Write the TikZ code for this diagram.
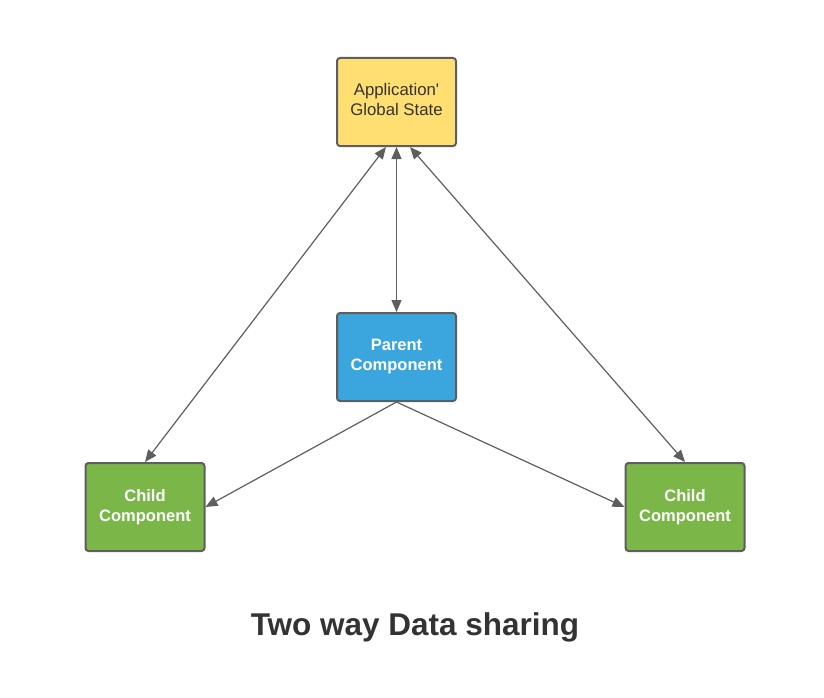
\documentclass[tikz,border=0pt]{standalone}
\usepackage{fontspec}
\setmainfont{Liberation Sans}
\usetikzlibrary{arrows.meta}
\definecolor{edgegray}{HTML}{5E5E5E}
\definecolor{boxyellow}{HTML}{FFDF71}
\definecolor{boxblue}{HTML}{3AA6DD}
\definecolor{boxgreen}{HTML}{7AB648}
\definecolor{txtdark}{HTML}{333333}
\tikzset{
  box/.style={draw=edgegray, line width=2pt, rounded corners=3pt, minimum width=119pt, minimum height=88pt, align=center, font=\fontsize{16.8}{20}\selectfont, inner sep=0pt},
  statebox/.style={box, fill=boxyellow, text=txtdark},
  parentbox/.style={box, fill=boxblue, text=white, font=\fontsize{16.5}{20}\selectfont\bfseries},
  childbox/.style={box, fill=boxgreen, text=white, font=\fontsize{16.5}{20}\selectfont\bfseries},
  conn/.style={draw=edgegray, line width=1.2pt, -{Triangle[length=12pt,width=10pt]}},
  bconn/.style={draw=edgegray, line width=1.2pt, {Triangle[length=12pt,width=10pt]}-{Triangle[length=12pt,width=10pt]}},
}
\begin{document}
\begin{tikzpicture}[x=1pt,y=-1pt]
\useasboundingbox (0,0) rectangle (824,698);
\node[statebox] (gs) at (396.5,102) {Application\textquotesingle\\Global State\rule[-5pt]{0pt}{5pt}};
\node[parentbox] (pc) at (396.5,357) {Parent\\Component};
\node[childbox] (lc) at (145,507) {Child\\Component};
\node[childbox] (rc) at (685,507) {Child\\Component};
\node[font=\fontsize{31.5}{36}\selectfont\bfseries, text=txtdark] (title) at (415,627) {Two way Data sharing};
\draw[bconn] ([xshift=-10.5pt]gs.south) -- (lc.north);
\draw[bconn] (gs.south) -- (pc.north);
\draw[bconn] ([xshift=13.5pt]gs.south) -- (rc.north);
\draw[conn] (pc.south) -- (lc.east);
\draw[conn] (pc.south) -- (rc.west);
\end{tikzpicture}
\end{document}
